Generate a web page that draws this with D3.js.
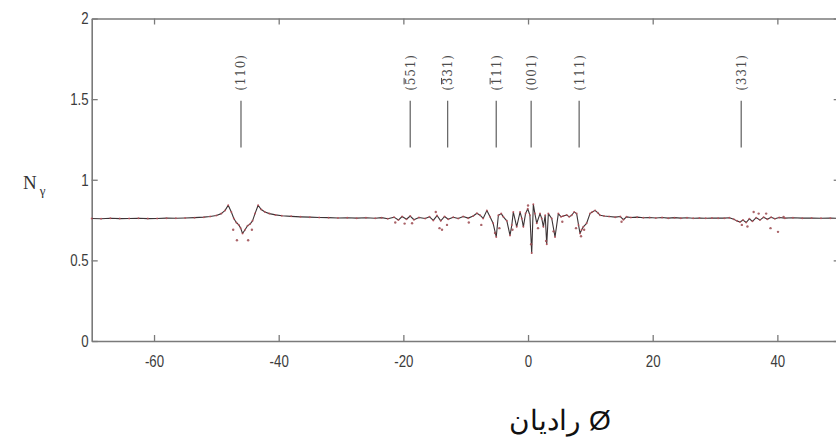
<!DOCTYPE html>
<html>
<head>
<meta charset="utf-8">
<script src="https://cdn.jsdelivr.net/npm/d3@7/dist/d3.min.js"></script>
<style>
  html, body { margin: 0; padding: 0; background: #fff; }
  svg { display: block; }
</style>
</head>
<body>
<svg id="chart" width="836" height="441"></svg>
<script>
// Axis ticks
const xTicks = [-60, -40, -20, 0, 20, 40];
const xTickLabels = ["-60", "-40", "-20", "0", "20", "40"];
const yTicks = [0, 0.5, 1, 1.5, 2];
const yTickLabels = ["0", "0.5", "1", "1.5", "2"];

// Simulated N_gamma along the scan angle (solid curve)
const phi = [-70, -68.5, -67, -65.5, -64, -62.5, -61, -59.5, -58, -56.5, -55, -53.5, -52, -51, -50, -49.2, -48.6, -48.1, -47.6, -47.2,
  -46.8, -46.4, -46.1, -45.8, -45.4, -45.0, -44.6, -44.2, -43.8, -43.3, -42.8, -42.2, -41.5, -40.5, -39.5, -38, -36.5, -35, -33.5, -32,
  -30.5, -29, -27.5, -26, -24.5, -23.5, -22.5, -21.5, -20.8, -20.2, -19.5, -18.9, -18.3, -17.5, -16.5, -15.8, -15.2, -14.6, -14.0, -13.4,
  -12.8, -12.0, -11.2, -10.4, -9.6, -8.8, -8.2, -7.7, -7.2, -6.6, -6.1, -5.6, -5.1, -4.76, -4.3, -3.96, -3.4, -2.89, -2.6, -2.36,
  -1.82, -1.28, -1.0, -0.75, -0.4, -0.05, 0.3, 0.59, 0.85, 1.1, 1.4, 1.92, 2.2, 2.46, 2.75, 3.0, 3.26, 3.8, 4.33, 4.86,
  5.3, 5.66, 6.2, 6.6, 7.0, 7.4, 7.8, 8.1, 8.34, 8.6, 8.87, 9.4, 9.94, 10.3, 10.75, 11.2, 11.55, 12.2, 13, 14,
  14.8, 15.3, 15.8, 16.5, 17.5, 18.5, 19.5, 20.5, 21.5, 22.5, 23.5, 24.5, 25.5, 26.5, 27.5, 28.5, 29.5, 30.5, 31.5, 32.3,
  33.0, 33.5, 34.0, 34.5, 35.0, 35.5, 36.0, 36.6, 37.2, 37.8, 38.4, 39.0, 39.6, 40.3, 41.2, 42.5, 44, 45.5, 47, 48.5, 50];
const ny = [0.760, 0.758, 0.761, 0.759, 0.760, 0.761, 0.759, 0.760, 0.762, 0.761, 0.763, 0.765, 0.768, 0.772, 0.778, 0.790, 0.810, 0.842, 0.800, 0.760,
  0.735, 0.720, 0.700, 0.667, 0.690, 0.715, 0.725, 0.745, 0.790, 0.842, 0.815, 0.800, 0.790, 0.782, 0.777, 0.773, 0.770, 0.768, 0.766, 0.765,
  0.763, 0.764, 0.762, 0.764, 0.761, 0.765, 0.758, 0.768, 0.750, 0.772, 0.755, 0.775, 0.752, 0.766, 0.760, 0.770, 0.748, 0.778, 0.745, 0.772,
  0.755, 0.768, 0.760, 0.772, 0.762, 0.775, 0.792, 0.780, 0.760, 0.810, 0.770, 0.730, 0.645, 0.780, 0.790, 0.770, 0.745, 0.655, 0.720, 0.800,
  0.708, 0.800, 0.760, 0.708, 0.790, 0.820, 0.780, 0.545, 0.848, 0.790, 0.730, 0.790, 0.760, 0.708, 0.780, 0.600, 0.790, 0.760, 0.645, 0.790,
  0.770, 0.775, 0.782, 0.770, 0.780, 0.800, 0.790, 0.720, 0.667, 0.690, 0.708, 0.730, 0.790, 0.800, 0.810, 0.795, 0.780, 0.775, 0.772, 0.768,
  0.772, 0.752, 0.770, 0.766, 0.768, 0.764, 0.766, 0.763, 0.766, 0.762, 0.765, 0.762, 0.764, 0.761, 0.763, 0.761, 0.763, 0.762, 0.762, 0.764,
  0.755, 0.745, 0.738, 0.750, 0.735, 0.758, 0.742, 0.765, 0.750, 0.768, 0.755, 0.768, 0.758, 0.766, 0.762, 0.764, 0.762, 0.763, 0.761, 0.762, 0.761];

// Measured points that sit off the curve
const measPhi = [-47.3, -46.7, -44.9, -44.3, -21.3, -19.8, -18.6, -14.8, -14.2, -13.8, -13.0, -9.5, -7.5, -5.3, -4.6, -2.5, 0.0, 0.5, 1.6, 2.9,
  4.1, 5.5, 7.7, 8.5, 9.0, 15.0, 34.3, 35.2, 36.2, 37.0, 38.2, 38.9, 40.1, 41.0];
const measNy = [0.69, 0.625, 0.625, 0.69, 0.735, 0.728, 0.73, 0.80, 0.70, 0.69, 0.72, 0.735, 0.72, 0.67, 0.70, 0.69, 0.84, 0.60, 0.70, 0.62,
  0.68, 0.74, 0.70, 0.65, 0.69, 0.74, 0.72, 0.71, 0.80, 0.79, 0.79, 0.70, 0.677, 0.77];

// Crystal-direction markers; dirBar gives the character carrying a bar (negative index), -1 for none
const dirPhi = [-46.05, -18.9, -12.9, -5.1, 0.5, 8.2, 34.2];
const dirLabels = ["(110)", "(551)", "(331)", "(111)", "(001)", "(111)", "(331)"];
const dirBar = [-1, 1, 1, 1, -1, -1, -1];

const svg = d3.select("#chart");
const x = d3.scaleLinear().domain([-70, 50]).range([91.7, 839.7]);
const y = d3.scaleLinear().domain([0, 2]).range([341, 18.5]);

const axisColor = "#7a7a7a";
const labelColor = "#3c3c3c";
const tickFont = "'Liberation Sans', Arial, sans-serif";
const squeeze = 0.78; // condensed look of the tick numerals

function styleAxis(g) {
  g.select(".domain").attr("stroke", axisColor).attr("stroke-width", 1.6);
  g.selectAll(".tick line").attr("stroke", axisColor).attr("stroke-width", 1.3);
  g.selectAll(".tick text").attr("fill", labelColor).attr("font-family", tickFont).attr("font-size", 17);
}

// bottom axis
const gx = svg.append("g").attr("transform", `translate(0,${y(0)})`)
  .call(d3.axisBottom(x).tickValues(xTicks).tickSize(-6).tickSizeOuter(0).tickPadding(14)
    .tickFormat((d, i) => xTickLabels[i]))
  .call(styleAxis);
gx.selectAll(".tick text").attr("transform", `scale(${squeeze},1)`);
// top axis
svg.append("g").attr("transform", `translate(0,${y(2)})`)
  .call(d3.axisTop(x).tickValues(xTicks).tickSize(-6).tickSizeOuter(0).tickFormat(""))
  .call(styleAxis);
// left axis
const gy = svg.append("g").attr("transform", `translate(${x(-70)},0)`)
  .call(d3.axisLeft(y).tickValues(yTicks).tickSize(-6).tickSizeOuter(0).tickPadding(4)
    .tickFormat((d, i) => yTickLabels[i]))
  .call(styleAxis);
gy.selectAll(".tick text").attr("transform", `scale(${squeeze},1)`);
// right axis
svg.append("g").attr("transform", `translate(${x(50)},0)`)
  .call(d3.axisRight(y).tickValues(yTicks).tickSize(-6).tickSizeOuter(0).tickFormat(""))
  .call(styleAxis);

// direction markers
const dirs = svg.append("g");
dirPhi.forEach((p, i) => {
  dirs.append("line")
    .attr("x1", x(p)).attr("x2", x(p))
    .attr("y1", y(1.2)).attr("y2", y(1.49))
    .attr("stroke", "#6a6a6a").attr("stroke-width", 1.3);
  const g = dirs.append("g")
    .attr("transform", `translate(${x(p) + 4.5},${y(1.665)}) rotate(-90)`);
  const t = g.append("text")
    .attr("text-anchor", "middle")
    .attr("font-family", "'DejaVu Serif', 'Liberation Serif', serif")
    .attr("font-size", 12)
    .attr("letter-spacing", 0.8)
    .attr("fill", "#4d4d4d")
    .text(dirLabels[i]);
  if (dirBar[i] >= 0) {
    const e = t.node().getExtentOfChar(dirBar[i]);
    g.append("line")
      .attr("x1", e.x + 0.8).attr("x2", e.x + e.width - 1.2)
      .attr("y1", -10.6).attr("y2", -10.6)
      .attr("stroke", "#4d4d4d").attr("stroke-width", 1);
  }
});

// curve
const line = d3.line().x((d, i) => x(phi[i])).y((d, i) => y(ny[i]));
svg.append("path").datum(ny)
  .attr("d", line)
  .attr("fill", "none")
  .attr("stroke", "#3b3335")
  .attr("stroke-width", 1.1)
  .attr("stroke-linejoin", "round");

// measured points
svg.append("g").selectAll("circle")
  .data(phi)
  .join("circle")
  .attr("cx", d => x(d)).attr("cy", (d, i) => y(ny[i]))
  .attr("r", 1).attr("fill", "#c0505a").attr("opacity", 0.8);
svg.append("g").selectAll("circle")
  .data(measPhi)
  .join("circle")
  .attr("cx", d => x(d)).attr("cy", (d, i) => y(measNy[i]))
  .attr("r", 1.2).attr("fill", "#9c4a50").attr("opacity", 0.85);

// y label
const yl = svg.append("text")
  .attr("x", 23).attr("y", 189)
  .attr("font-family", "'Liberation Serif', 'DejaVu Serif', serif")
  .attr("font-size", 19).attr("fill", "#333");
yl.append("tspan").text("N");
yl.append("tspan").attr("dx", 3).attr("dy", 6).attr("font-size", 13).text("γ");

// x label
svg.append("text")
  .attr("x", 560).attr("y", 430)
  .attr("text-anchor", "middle")
  .attr("direction", "ltr")
  .attr("font-family", "'Liberation Sans', Arial, sans-serif")
  .attr("font-size", 28).attr("fill", "#111")
  .text("راديان Ø");
</script>
</body>
</html>
